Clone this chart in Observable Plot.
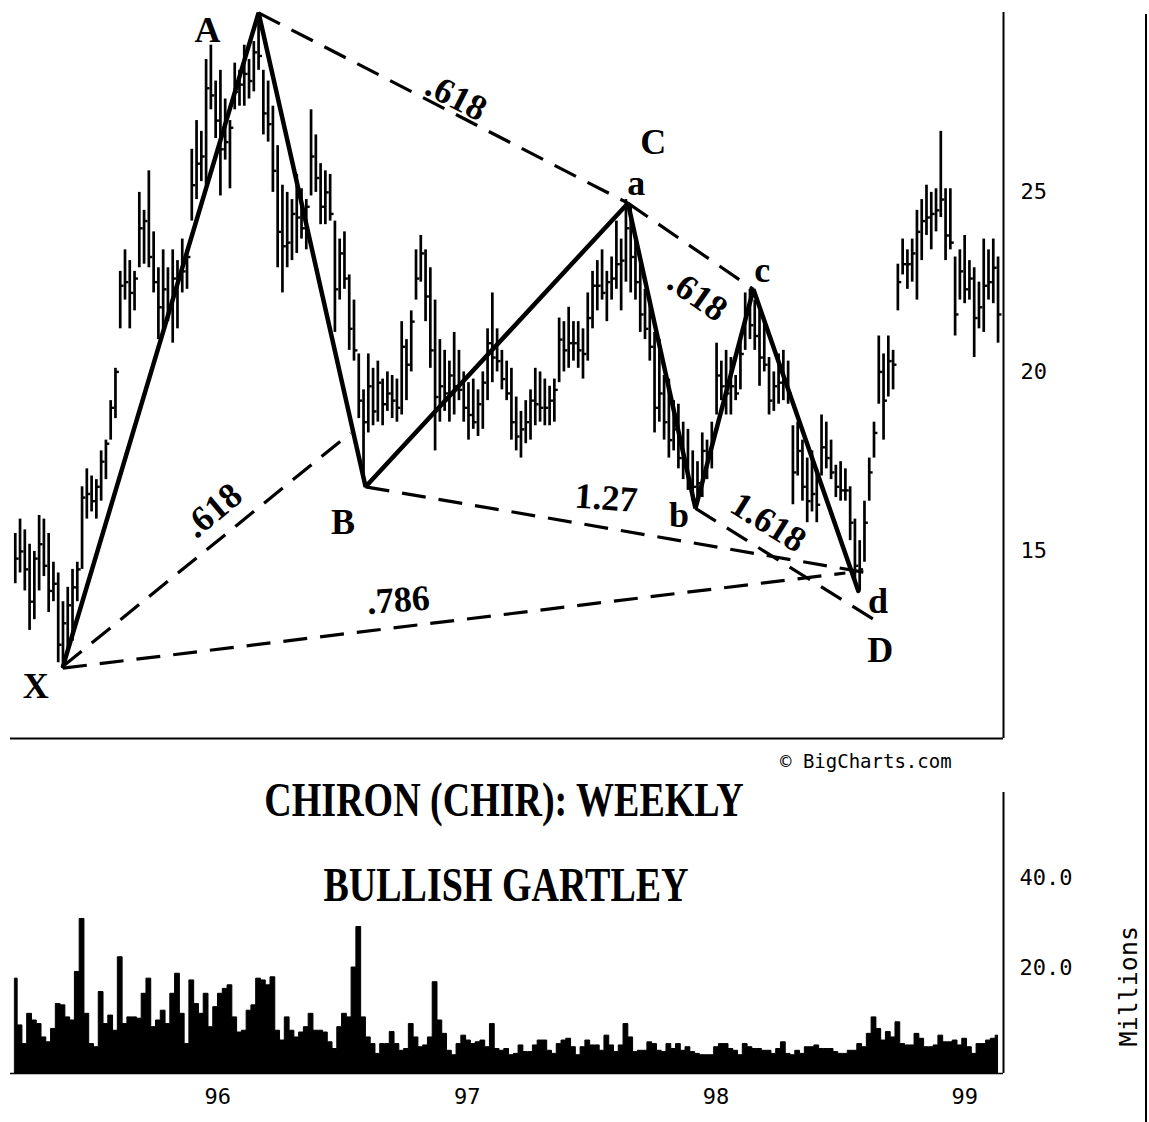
<!DOCTYPE html>
<html>
<head>
<meta charset="utf-8">
<script src="https://cdn.jsdelivr.net/npm/d3@7"></script>
<script src="https://cdn.jsdelivr.net/npm/@observablehq/plot@0.6"></script>
<style>
  html,body{margin:0;padding:0;background:#fff;}
  #wrap{position:relative;width:1149px;height:1122px;overflow:hidden;background:#fff;}
  #price,#vol{position:absolute;left:0;width:1149px;}
  #price{top:0;}
  #vol{top:745px;}
  .title{position:absolute;font-family:"Liberation Serif","Times New Roman",serif;font-weight:bold;font-size:38px;line-height:38px;white-space:nowrap;color:#000;transform:translate(-50%,-50%) scaleY(1.25);}
  .credit{position:absolute;font-family:"DejaVu Sans Mono",monospace;font-size:19px;line-height:19px;white-space:nowrap;color:#000;}
  .border{position:absolute;left:1145px;top:14px;width:0;height:1108px;border-left:2px solid #000;}
</style>
</head>
<body>
<div id="wrap">
  <div id="price"></div>
  <div id="vol"></div>
  <div class="title" style="left:504px;top:800px;">CHIRON (CHIR): WEEKLY</div>
  <div class="title" style="left:506px;top:885px;">BULLISH GARTLEY</div>
  <div class="credit" style="left:780px;top:752px;">© BigCharts.com</div>
  <div class="border"></div>
</div>
<script>
// ---- Weekly price data (CHIR) ----
const firstWeek = "1995-03-10";
const high = [
15.5,15.9,15.6,15.2,15.0,16.0,15.9,15.5,14.7,14.4,
13.6,14.0,14.5,14.7,16.8,17.3,17.1,17.0,17.8,18.1,
19.2,20.1,22.8,23.4,23.1,22.8,25.0,24.5,25.6,23.9,
22.9,23.4,22.9,23.4,23.1,23.7,23.4,26.2,27.0,26.7,
28.7,29.1,28.1,28.4,27.6,27.0,28.6,28.4,29.1,28.7,
29.2,30.0,28.4,28.1,27.4,26.3,25.2,25.0,24.8,25.5,
25.1,24.8,27.3,26.6,25.8,25.6,25.5,24.2,23.7,23.9,
22.7,22.0,20.5,19.5,20.5,20.1,20.3,19.8,20.0,19.9,
19.8,21.4,20.9,21.7,23.4,23.8,23.4,22.9,22.0,20.9,
20.6,20.3,21.1,20.6,20.0,19.7,19.8,19.5,20.0,21.2,
22.2,21.2,20.6,20.3,20.1,19.3,18.9,19.2,19.5,20.1,
20.0,19.8,19.6,19.8,21.5,21.4,21.8,21.4,21.4,21.2,
22.2,22.8,23.1,23.4,22.8,23.2,24.2,23.7,24.8,24.6,
23.7,23.1,22.3,22.0,21.1,20.9,19.9,19.8,19.2,19.1,
18.6,18.4,17.8,17.5,18.3,18.1,18.6,20.8,20.3,20.6,
20.4,19.9,20.9,22.2,22.3,22.0,21.7,21.4,20.4,20.0,
20.5,20.6,20.3,18.5,18.6,18.1,17.6,17.8,17.3,18.8,
18.6,18.1,17.4,17.5,17.3,16.8,15.9,15.3,16.4,17.6,
18.6,21.0,20.5,21.0,20.6,23.0,23.7,23.4,23.7,24.5,
24.8,25.2,25.0,25.1,26.7,25.1,25.1,23.2,23.4,23.8,
23.1,22.9,22.5,23.7,23.4,23.7,23.2
];
const low = [
14.1,14.4,13.9,12.8,13.1,13.9,14.3,13.3,13.6,11.9,
11.9,12.2,12.5,13.6,14.5,15.9,16.1,15.9,16.4,17.0,
18.1,18.7,21.2,22.0,21.2,21.7,22.9,23.0,22.9,22.2,
20.9,21.2,21.4,20.8,21.2,22.2,22.3,24.2,24.8,25.3,
25.2,27.3,26.5,24.9,25.9,25.1,27.3,27.4,27.4,27.6,
27.8,28.4,26.6,26.4,25.0,22.9,22.2,22.9,23.1,23.3,
23.7,23.4,24.9,25.0,24.1,24.1,24.2,21.1,22.0,22.3,
20.6,20.3,18.7,17.0,18.3,18.5,18.6,18.5,18.9,18.7,
18.6,18.8,19.2,20.0,22.0,22.5,21.4,20.1,17.8,18.6,
18.9,18.6,18.8,19.2,18.6,18.1,18.4,18.2,18.4,19.2,
19.7,20.0,19.5,19.2,18.1,17.8,17.6,18.0,18.1,18.5,
18.6,18.5,18.5,18.6,19.7,20.0,20.1,20.3,20.1,19.8,
20.3,21.2,21.7,22.0,21.4,22.0,22.3,21.7,22.5,22.2,
22.0,21.1,20.9,20.3,18.3,18.6,18.1,17.6,17.8,17.3,
17.0,16.7,16.4,16.4,16.5,17.0,17.3,18.8,19.2,18.8,
18.8,19.2,19.5,20.6,20.9,20.6,19.6,20.0,18.8,18.9,
19.1,19.2,19.1,16.3,17.1,16.4,15.8,16.1,15.8,17.1,
17.3,17.0,16.5,16.4,16.4,15.3,14.2,13.9,14.7,16.4,
17.6,19.1,18.1,19.3,19.5,21.7,22.7,22.3,22.5,22.0,
23.1,23.8,23.4,23.9,24.3,23.1,23.4,21.0,22.0,21.9,
22.0,20.4,21.2,21.1,22.0,21.9,20.8
];
const close = [
14.8,15.0,14.5,13.6,14.8,15.2,14.6,13.9,14.1,12.4,
13.0,13.5,14.0,14.5,16.5,16.6,16.4,16.8,17.5,18.0,
19.0,20.0,22.4,22.5,22.2,22.6,24.0,24.2,23.2,22.5,
21.8,22.3,21.8,22.6,22.6,22.8,23.2,25.2,25.8,26.0,
27.9,27.7,27.0,26.2,26.4,26.8,27.8,28.0,28.3,28.1,
28.9,28.8,27.2,26.9,25.6,23.9,23.5,23.6,24.4,24.3,
24.0,24.6,26.0,25.4,24.6,25.0,24.4,22.3,23.3,22.6,
21.2,20.6,19.2,18.6,19.6,18.9,19.7,19.1,19.4,19.2,
19.0,20.7,20.2,21.4,22.6,23.3,22.1,20.6,19.3,19.6,
19.4,19.9,19.6,19.5,19.0,18.8,18.6,19.1,19.7,20.8,
20.4,20.3,19.8,19.4,18.6,18.2,18.4,18.6,19.2,19.1,
19.0,19.0,19.2,19.5,20.9,20.6,20.8,20.8,20.6,20.5,
21.5,22.4,22.4,22.2,22.5,22.6,23.0,23.1,24.0,23.2,
22.5,21.6,21.2,20.7,19.0,19.4,18.6,18.1,18.4,17.6,
17.5,17.0,16.8,16.9,17.8,17.6,18.2,19.9,19.6,19.4,
19.6,19.4,20.5,21.6,21.3,21.0,20.4,20.2,19.2,19.6,
19.7,19.8,19.4,17.2,17.8,16.8,16.4,16.6,16.3,17.9,
17.6,17.2,16.8,16.7,16.7,15.8,14.6,14.5,15.8,17.2,
18.3,20.0,19.2,20.3,20.2,22.5,23.0,23.0,23.3,23.9,
24.2,24.3,24.4,24.5,24.8,23.8,23.6,21.6,22.8,22.3,
22.6,21.5,21.8,22.4,22.5,22.9,21.6
];
// weekly volume, millions of shares
const volume = [
17.5,7.0,2.8,9.6,8.1,7.3,4.3,3.2,6.2,11.8,
11.5,8.8,8.1,19.0,30.9,9.6,2.8,2.1,14.5,7.3,
9.2,5.8,22.3,7.3,8.8,8.8,8.5,14.1,17.5,6.6,
8.1,10.3,7.3,14.1,18.6,9.6,2.8,17.1,11.8,9.6,
14.1,6.6,11.1,14.1,15.2,16.0,8.8,5.4,5.8,10.3,
11.5,17.5,17.1,16.0,17.8,5.8,3.6,8.8,5.8,4.3,
5.4,6.6,9.6,5.8,5.8,5.4,3.2,1.7,6.6,9.6,
8.8,20.0,29.1,8.8,4.3,2.8,0.6,2.8,2.8,5.5,
2.8,1.3,1.7,7.3,4.3,2.1,2.5,4.3,16.7,8.1,
5.1,1.3,0.3,2.8,4.7,3.6,2.8,3.2,3.6,2.1,
7.3,1.7,1.3,1.7,0.3,0.6,2.5,1.0,1.0,2.5,
3.6,3.6,1.3,0.6,2.8,3.6,4.0,2.1,0.3,2.1,
3.6,2.5,2.5,1.3,4.7,2.5,1.0,2.5,7.3,4.3,
1.0,1.3,1.3,3.2,2.8,1.3,1.0,2.8,1.7,2.8,
1.3,2.1,1.0,0.6,0.3,0.3,0.3,2.1,2.8,2.8,
1.7,1.3,0.3,2.8,2.1,1.7,1.7,1.3,1.3,0.6,
1.7,3.2,0.6,0.3,1.3,0.6,2.1,2.1,2.5,1.7,
1.7,1.7,1.0,0.6,0.6,1.3,1.3,2.8,2.1,5.1,
8.8,6.2,3.6,5.5,4.3,7.7,2.8,2.5,2.5,5.1,
4.0,2.1,2.1,2.5,4.7,3.2,3.2,3.6,2.5,4.0,
2.1,0.6,2.8,2.8,3.6,4.0,4.7
];

// ---- Gartley pattern pivots (solid legs X-A-B-C-b-c-d) ----
const pivotNames  = ["X","A","B","C","b","c","d"];
const pivotDates  = ["1995-05-19","1996-03-01","1996-08-05","1997-08-25","1997-12-02","1998-02-25","1998-07-29"];
const pivotPrices = [11.8, 30.0, 16.8, 24.7, 16.2, 22.3, 13.9];

// ---- Dashed ratio lines ----
const dashFromDates  = ["1996-03-01","1995-05-19","1996-08-05","1995-05-19","1997-08-25","1997-12-02"];
const dashFromPrices = [30.0, 11.8, 16.8, 11.75, 24.7, 16.2];
const dashToDates    = ["1997-08-25","1996-07-14","1998-08-13","1998-07-10","1998-02-25","1998-08-21"];
const dashToPrices   = [24.7, 18.3, 14.4, 14.4, 22.3, 13.1];

// ---- Annotation labels ----
const labelText   = ["A","X","B","C","a","b","c","d","D",".618",".618",".786","1.27",".618","1.618"];
const labelDates  = ["1995-12-17","1995-04-09","1996-07-03","1997-10-01","1997-09-06","1997-11-08","1998-03-10","1998-08-27","1998-08-30","1996-12-16","1995-12-25","1996-09-22","1997-07-24","1997-12-05","1998-03-19"];
const labelPrices = [29.51,11.24,15.81,26.39,25.25,16.0,22.83,13.61,12.24,27.65,16.14,13.64,16.48,22.13,15.81];
const labelAngles = [0,0,0,0,0,0,0,0,0,27,-40,-4,4,35,32];

// ---- Axis ticks ----
const priceTicks = [15, 20, 25];
const volumeTicks = [20, 40];
const yearTicks = ["1996-01-01","1997-01-01","1998-01-01","1999-01-01"];

// ---- Build tables ----
const start = new Date(firstWeek);
const dates = high.map((_, i) => d3.utcDay.offset(start, 7 * i));
const bars = high.map((h, i) => ({date: dates[i], high: h, low: low[i], close: close[i]}));
const vols = volume.map((v, i) => ({date: dates[i], vol: v}));
const pivots = pivotNames.map((n, i) => ({name: n, date: new Date(pivotDates[i]), price: pivotPrices[i]}));
const dashes = dashFromDates.map((d, i) => ({x1: new Date(d), y1: dashFromPrices[i], x2: new Date(dashToDates[i]), y2: dashToPrices[i]}));
const labels = labelText.map((t, i) => ({text: t, date: new Date(labelDates[i]), price: labelPrices[i], angle: labelAngles[i]}));

const xDomain = [new Date("1995-03-03"), new Date("1999-02-27")];
const priceDomain = [9.79, 30.01];
const volDomain = [-3.8, 59.3];
const mono = "DejaVu Sans Mono, monospace";
const serif = "Liberation Serif, Times New Roman, serif";

const price = Plot.plot({
  width: 1149, height: 745,
  marginLeft: 10, marginRight: 146, marginTop: 12, marginBottom: 7,
  style: {background: "#fff", color: "#000", fontFamily: mono, fontSize: "22px", overflow: "visible"},
  x: {type: "utc", domain: xDomain, axis: null},
  y: {domain: priceDomain},
  marks: [
    Plot.axisY({anchor: "right", ticks: priceTicks, tickSize: 0, tickPadding: 17, label: null, fontSize: 22, fontFamily: mono, tickFormat: d => String(d)}),
    Plot.ruleY([priceDomain[0]], {strokeWidth: 2}),
    Plot.ruleX([xDomain[1]], {strokeWidth: 2}),
    Plot.ruleX(bars, {x: "date", y1: "low", y2: "high", strokeWidth: 2.7}),
    Plot.link(bars, {x1: "date", x2: d => d3.utcDay.offset(d.date, 5), y1: "close", y2: "close", strokeWidth: 2.4}),
    Plot.link(dashes, {x1: "x1", y1: "y1", x2: "x2", y2: "y2", strokeWidth: 3.2, strokeDasharray: "24,13"}),
    Plot.line(pivots, {x: "date", y: "price", strokeWidth: 4.5, strokeLinejoin: "miter"}),
    Plot.text(labels, {x: "date", y: "price", text: "text", rotate: "angle", fontSize: 36, fontWeight: "bold", fontFamily: serif, fill: "#000"})
  ]
});
document.getElementById("price").appendChild(price);

const vol = Plot.plot({
  width: 1149, height: 377,
  marginLeft: 10, marginRight: 146, marginTop: 47, marginBottom: 49,
  style: {background: "#fff", color: "#000", fontFamily: mono, fontSize: "22px", overflow: "visible"},
  x: {type: "utc", domain: xDomain},
  y: {domain: volDomain},
  marks: [
    Plot.areaY(vols, {x: "date", y1: volDomain[0], y2: "vol", curve: "step", fill: "#000", stroke: "#000", strokeWidth: 1}),
    Plot.ruleX([xDomain[1]], {strokeWidth: 2}),
    Plot.ruleY([volDomain[0]], {strokeWidth: 1.5}),
    Plot.axisY({anchor: "right", ticks: volumeTicks, tickFormat: d => d.toFixed(1), tickSize: 0, tickPadding: 16, label: null, fontSize: 22, fontFamily: mono}),
    Plot.axisX({ticks: yearTicks.map(d => new Date(d)), tickFormat: d3.utcFormat("%y"), tickSize: 0, tickPadding: 15, label: null, fontSize: 22, fontFamily: mono}),
    Plot.text(["Millions"], {text: d => d, frameAnchor: "right", dx: 125, dy: -7, rotate: -90, fontSize: 25, fontFamily: mono, fill: "#000"})
  ]
});
document.getElementById("vol").appendChild(vol);
</script>
</body>
</html>
